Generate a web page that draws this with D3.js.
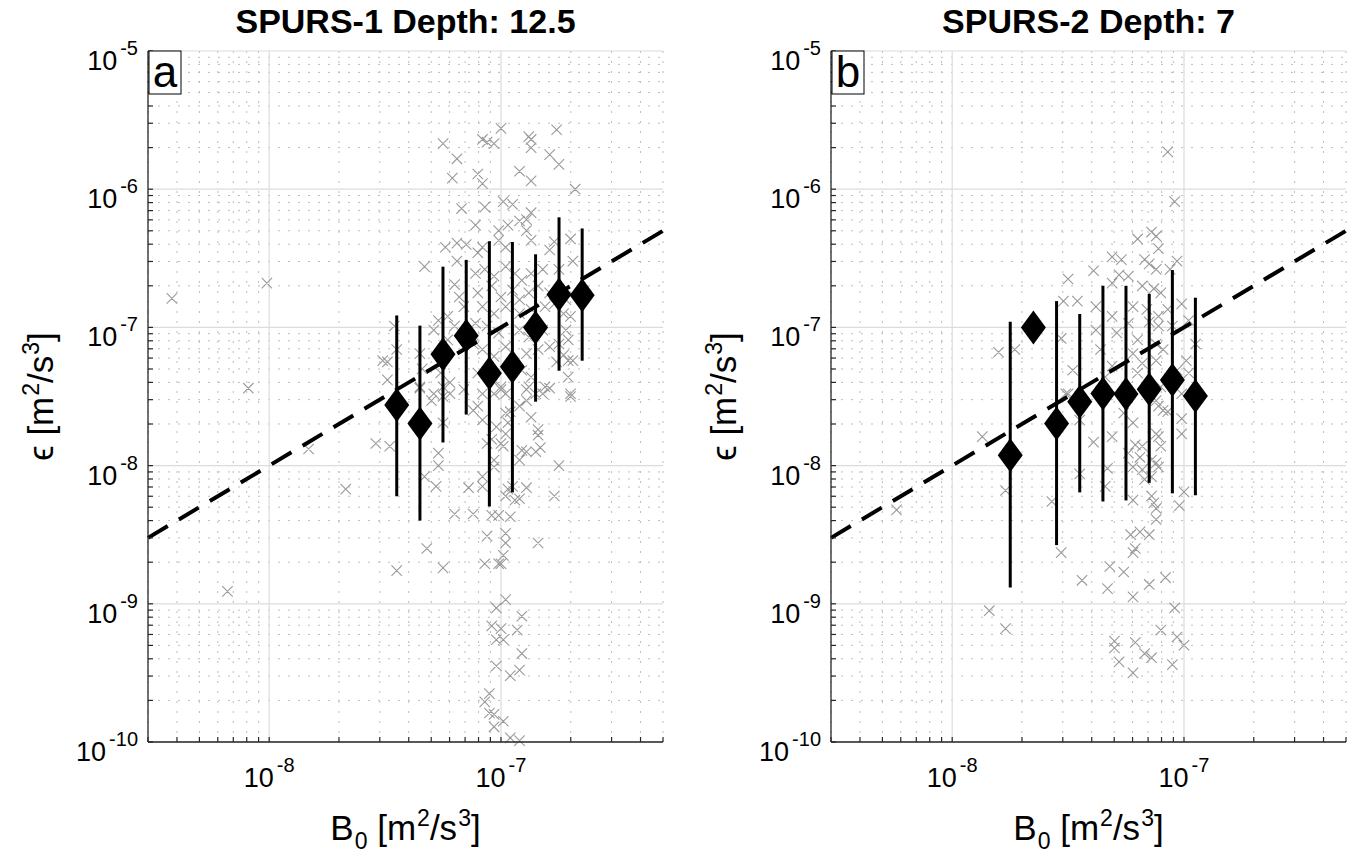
<!DOCTYPE html>
<html>
<head>
<meta charset="utf-8">
<script src="https://cdn.jsdelivr.net/npm/d3@7"></script>
<style>
  body { margin: 0; background: #fff; }
  svg { font-family: "Liberation Sans", Arial, Helvetica, sans-serif; }
</style>
</head>
<body>
<svg width="1358" height="865"></svg>
<script>
(function (d3) {
  'use strict';

  // ---- data ----
  const titles = ['SPURS-1 Depth: 12.5', 'SPURS-2 Depth: 7'];
  const letters = ['a', 'b'];
  const xTickVals = [1e-8, 1e-7];
  const yTickVals = [1e-10, 1e-9, 1e-8, 1e-7, 1e-6, 1e-5];
  const xDomain = [3e-9, 5e-7];
  const yDomain = [1e-10, 1e-5];

  // fit line eps = B0
  const fitB0 = [3e-9, 5e-7];
  const fitEps = [3e-9, 5e-7];

  // binned means (diamonds) with error bars
  const s1BinB0  = [3.55e-8, 4.47e-8, 5.62e-8, 7.08e-8, 8.91e-8, 1.12e-7, 1.41e-7, 1.78e-7, 2.24e-7];
  const s1BinEps = [2.75e-8, 2.02e-8, 6.4e-8, 8.7e-8, 4.66e-8, 5.2e-8, 1.0e-7, 1.73e-7, 1.71e-7];
  const s1BinHi  = [1.22e-7, 1.03e-7, 2.75e-7, 3.08e-7, 4.2e-7, 4.15e-7, 3.38e-7, 6.26e-7, 5.2e-7];
  const s1BinLo  = [6.0e-9, 4.0e-9, 1.47e-8, 2.34e-8, 5.05e-9, 6.4e-9, 2.9e-8, 4.86e-8, 5.74e-8];

  const s2BinB0  = [1.78e-8, 2.24e-8, 2.82e-8, 3.55e-8, 4.47e-8, 5.62e-8, 7.08e-8, 8.91e-8, 1.12e-7];
  const s2BinEps = [1.19e-8, 1.0e-7, 2.02e-8, 2.9e-8, 3.33e-8, 3.3e-8, 3.57e-8, 4.16e-8, 3.19e-8];
  const s2BinHi  = [1.1e-7, null, 1.55e-7, 1.25e-7, 2.0e-7, 2.0e-7, 1.75e-7, 2.6e-7, 1.64e-7];
  const s2BinLo  = [1.31e-9, null, 2.66e-9, 6.4e-9, 5.5e-9, 5.6e-9, 7.5e-9, 6.3e-9, 6.1e-9];

  // individual estimates, stored as [log10 B0, log10 eps]
  const s1Scatter = [
    [-8.42,-6.79],[-8.01,-6.68],[-8.09,-7.44],[-7.25,-5.67],[-7.19,-5.78],[-7.21,-5.92],[-7.08,-5.64],
    [-7.06,-5.66],[-7.03,-5.67],[-7.00,-5.56],[-7.10,-5.89],[-7.08,-5.96],[-6.88,-5.62],[-6.87,-5.64],
    [-6.87,-5.70],[-6.76,-5.57],[-6.79,-5.75],[-6.75,-5.82],[-6.92,-5.87],[-6.87,-5.94],[-6.68,-6.00],
    [-7.17,-6.14],[-7.07,-6.13],[-7.11,-6.26],[-6.99,-6.09],[-6.95,-6.11],[-6.87,-6.17],[-6.89,-6.22],
    [-7.01,-6.30],[-6.97,-6.26],[-6.92,-6.23],[-6.89,-6.30],[-6.87,-6.37],[-6.77,-6.38],[-6.70,-6.36],
    [-6.69,-6.52],[-7.24,-6.42],[-7.19,-6.39],[-7.15,-6.40],[-7.33,-6.56],[-7.19,-6.52],[-7.10,-6.46],
    [-7.08,-6.42],[-7.01,-6.37],[-6.98,-6.42],[-6.79,-6.44],[-6.75,-6.58],
    [-7.11,-6.61],[-7.07,-6.58],[-7.03,-6.63],[-6.98,-6.56],[-6.94,-6.61],[-6.91,-6.66],[-6.87,-6.61],
    [-6.82,-6.58],[-7.10,-6.75],[-7.04,-6.70],[-7.00,-6.78],[-6.95,-6.73],[-6.92,-6.80],[-6.88,-6.75],
    [-6.84,-6.70],[-6.79,-6.75],[-7.20,-6.69],[-7.18,-6.78],[-7.16,-6.85],[-7.08,-6.85],[-7.03,-6.90],
    [-6.98,-6.85],[-6.92,-6.90],[-6.87,-6.87],[-6.81,-6.85],[-6.77,-6.83],[-6.72,-6.80],[-7.27,-6.95],
    [-7.23,-6.92],[-7.20,-6.99],[-7.11,-6.97],[-7.06,-6.99],[-7.01,-7.04],[-6.92,-7.02],[-6.88,-7.07],
    [-6.82,-7.02],[-6.73,-6.90],[-6.70,-6.92],[-6.72,-7.02],[-7.29,-7.02],[-7.23,-7.09],[-7.12,-7.12],
    [-7.08,-7.16],[-7.03,-7.21],[-6.98,-7.14],[-6.89,-7.19],[-6.84,-7.16],[-6.79,-7.14],[-6.75,-7.12],
    [-6.71,-7.09],[-7.46,-6.99],[-7.45,-7.16],[-7.49,-7.25],[-7.51,-7.24],[-7.35,-7.19],[-7.34,-7.30],
    [-7.26,-7.33],[-7.22,-7.40],[-7.10,-7.33],[-7.04,-7.38],[-7.00,-7.43],[-6.91,-7.31],[-6.87,-7.36],
    [-6.81,-7.43],[-6.73,-7.20],[-6.71,-7.24],[-6.69,-7.24],[-6.71,-7.36],[-6.70,-7.48],[-6.76,-7.25],
    [-7.49,-7.38],[-7.35,-7.44],[-7.29,-7.48],[-7.25,-7.50],[-7.16,-7.45],[-7.08,-7.48],[-6.98,-7.48],
    [-6.89,-7.45],[-6.82,-7.48],[-6.79,-7.44],
    [-7.54,-7.84],[-7.48,-7.86],[-7.35,-7.43],[-7.29,-7.48],[-7.30,-7.53],[-7.25,-7.43],[-7.22,-7.48],
    [-7.16,-7.45],[-7.12,-7.60],[-7.10,-7.57],[-7.08,-7.67],[-7.03,-7.48],[-7.00,-7.45],[-6.98,-7.62],
    [-6.96,-7.61],[-6.97,-7.69],[-6.92,-7.57],[-6.89,-7.53],[-6.88,-7.43],[-6.85,-7.48],[-6.81,-7.43],
    [-6.87,-7.65],[-6.84,-7.74],[-6.84,-7.78],[-6.70,-7.50],[-7.25,-7.69],[-7.27,-7.91],[-7.27,-8.00],
    [-7.33,-8.08],[-7.28,-8.15],[-7.20,-8.35],[-7.12,-8.35],[-7.14,-8.16],[-7.08,-8.08],[-7.08,-8.15],
    [-7.06,-7.84],[-7.04,-7.81],[-7.03,-8.01],[-7.03,-7.96],[-7.02,-7.72],[-7.00,-7.84],[-6.99,-7.86],
    [-6.98,-7.77],[-6.97,-8.17],[-6.95,-8.15],[-6.94,-8.25],[-6.98,-8.22],[-6.92,-7.96],[-6.91,-7.89],
    [-6.89,-7.90],[-6.85,-7.90],[-6.83,-7.87],[-6.89,-8.16],[-6.92,-8.24],[-7.04,-8.36],[-7.01,-8.36],
    [-6.96,-8.37],[-7.06,-8.51],[-6.98,-8.49],[-6.98,-8.56],[-6.99,-8.65],[-7.00,-8.71],[-7.07,-8.71],
    [-7.01,-8.71],[-6.84,-8.56],[-6.75,-8.00],[-6.77,-8.22],[-7.67,-8.17],[-7.83,-7.88],[-7.32,-8.60],
    [-7.45,-8.76],[-7.25,-8.74],[-8.18,-8.91],[-6.98,-8.97],[-7.02,-9.03],[-6.91,-9.09],[-7.04,-9.16],
    [-7.00,-9.18],[-6.93,-9.19],[-7.02,-9.26],[-6.99,-9.26],[-6.91,-9.36],[-7.02,-9.45],[-6.96,-9.52],
    [-6.92,-9.48],[-7.05,-9.65],[-7.07,-9.71],[-7.05,-9.79],[-7.03,-9.80],[-6.99,-9.85],[-7.03,-9.89],
    [-6.96,-9.97],[-6.92,-9.99]
  ];

  const s2Scatter = [
    [-7.07,-5.73],[-7.04,-6.09],[-7.14,-6.31],[-7.12,-6.34],[-7.20,-6.36],[-7.11,-6.43],[-7.31,-6.49],
    [-7.27,-6.51],[-7.17,-6.51],[-7.15,-6.54],[-7.12,-6.58],[-7.03,-6.52],[-7.06,-6.58],[-7.39,-6.59],
    [-7.24,-6.63],[-7.31,-6.68],[-7.28,-6.62],[-7.50,-6.65],[-7.18,-6.70],[-7.13,-6.72],[-7.10,-6.75],
    [-7.52,-6.81],[-7.46,-6.81],[-7.38,-6.85],[-7.22,-6.85],[-7.01,-6.83],[-7.16,-6.87],[-7.31,-6.92],
    [-7.11,-6.92],[-7.07,-6.87],[-6.98,-6.95],[-7.24,-6.97],[-7.15,-6.96],[-7.11,-6.99],[-7.05,-6.99],
    [-7.38,-7.02],[-7.53,-7.08],[-7.29,-7.04],[-7.20,-7.09],[-7.12,-7.12],[-6.95,-7.12],[-7.36,-7.16],
    [-7.22,-7.19],[-7.09,-7.16],[-7.80,-7.18],[-7.73,-7.16],[-7.48,-7.31],[-7.31,-7.28],[-7.18,-7.26],
    [-7.12,-7.24],[-6.99,-7.24],[-7.20,-7.33],[-7.03,-7.31],[-6.98,-7.33],[-7.34,-7.36],[-7.10,-7.43],
    [-7.50,-7.48],[-7.01,-7.48],
    [-7.87,-7.79],[-7.51,-7.48],[-7.45,-7.67],[-7.39,-7.83],[-7.31,-7.79],[-7.26,-7.62],[-7.22,-7.69],
    [-7.21,-7.85],[-7.18,-7.86],[-7.12,-7.53],[-7.11,-7.57],[-7.09,-7.60],[-7.07,-7.61],[-7.12,-7.77],
    [-7.11,-7.79],[-7.10,-7.86],[-7.01,-7.66],[-7.01,-7.77],[-7.24,-7.91],[-7.19,-7.94],[-7.14,-7.96],
    [-7.12,-7.98],[-7.22,-8.01],[-7.11,-8.01],[-7.18,-8.03],[-7.17,-8.10],[-7.14,-8.08],[-7.33,-8.02],
    [-7.45,-8.06],[-7.34,-8.15],[-7.77,-8.18],[-7.00,-8.19],[-7.57,-8.26],[-7.22,-8.25],[-7.14,-8.22],
    [-7.13,-8.27],[-7.02,-8.29],[-7.12,-8.31],[-7.12,-8.39],[-8.24,-8.32],[-7.23,-8.50],[-7.19,-8.48],
    [-7.15,-8.50],[-7.21,-8.60],[-7.22,-8.63],[-7.53,-8.63],[-7.32,-8.73],[-7.26,-8.77],[-7.08,-8.81],
    [-7.44,-8.83],[-7.33,-8.89],[-7.15,-8.86],[-7.22,-8.95],[-7.84,-9.05],[-7.04,-9.03],[-7.77,-9.18],
    [-7.10,-9.19],[-7.03,-9.24],[-7.30,-9.27],[-7.30,-9.32],[-7.21,-9.28],[-7.00,-9.30],[-7.28,-9.42],
    [-7.17,-9.36],[-7.14,-9.39],[-7.05,-9.44],[-7.22,-9.50]
  ];

  const panels = [
    { left: 148, title: titles[0], letter: letters[0], scatter: s1Scatter,
      b0: s1BinB0, eps: s1BinEps, hi: s1BinHi, lo: s1BinLo },
    { left: 831, title: titles[1], letter: letters[1], scatter: s2Scatter,
      b0: s2BinB0, eps: s2BinEps, hi: s2BinHi, lo: s2BinLo }
  ];

  const svg = d3.select('svg');
  const plotTop = 51;
  const plotBottom = 742;
  const plotWidth = 515;
  const isMajor = v => Math.abs(Math.log10(v) - Math.round(Math.log10(v))) < 1e-6;

  const powLabel = (sel, v) => {
    sel.append('tspan').text('10');
    sel.append('tspan')
      .attr('dx', 3)
      .attr('dy', -15)
      .attr('font-size', 20)
      .text(Math.round(Math.log10(v)));
  };

  // label with TeX-like sub/superscripts: parts are [text, shift] with shift -1 sub, 1 sup
  const richLabel = (sel, parts, big, small) => {
    let level = 0;
    parts.forEach(([txt, lv]) => {
      const t = sel.append('tspan').text(txt)
        .attr('font-size', lv === 0 ? big : small);
      const target = lv === 1 ? -14 : lv === -1 ? 9 : 0;
      t.attr('dy', target - level);
      if (lv !== 0) t.attr('dx', 1);
      level = target;
    });
  };

  const render = p => {
    const xScale = d3.scaleLog().domain(xDomain).range([p.left, p.left + plotWidth]);
    const yScale = d3.scaleLog().domain(yDomain).range([plotBottom, plotTop]);
    const xAll = xScale.ticks();
    const yAll = yScale.ticks();

    const g = svg.append('g');

    // minor grid
    g.selectAll('.xminor').data(xAll.filter(v => !isMajor(v)))
      .enter().append('line')
        .attr('x1', d => xScale(d)).attr('x2', d => xScale(d))
        .attr('y1', plotTop).attr('y2', plotBottom)
        .attr('stroke', '#bdbdbd').attr('stroke-width', 1)
        .attr('stroke-dasharray', '2,8');
    g.selectAll('.yminor').data(yAll.filter(v => !isMajor(v)))
      .enter().append('line')
        .attr('y1', d => yScale(d)).attr('y2', d => yScale(d))
        .attr('x1', p.left).attr('x2', p.left + plotWidth)
        .attr('stroke', '#bdbdbd').attr('stroke-width', 1)
        .attr('stroke-dasharray', '2,8');

    // major grid
    g.selectAll('.xmajor').data(xTickVals)
      .enter().append('line')
        .attr('x1', d => xScale(d)).attr('x2', d => xScale(d))
        .attr('y1', plotTop).attr('y2', plotBottom)
        .attr('stroke', '#dcdcdc').attr('stroke-width', 1.2);
    g.selectAll('.ymajor').data(yTickVals)
      .enter().append('line')
        .attr('y1', d => yScale(d)).attr('y2', d => yScale(d))
        .attr('x1', p.left).attr('x2', p.left + plotWidth)
        .attr('stroke', '#dcdcdc').attr('stroke-width', 1.2);

    // scatter crosses
    const r = 5.2;
    const pts = p.scatter.map(d => [xScale(Math.pow(10, d[0])), yScale(Math.pow(10, d[1]))]);
    g.append('path')
      .attr('d', pts.map(([cx, cy]) =>
        `M${cx - r},${cy - r}L${cx + r},${cy + r}M${cx - r},${cy + r}L${cx + r},${cy - r}`).join(''))
      .attr('stroke', '#9a9a9a').attr('stroke-width', 1.1).attr('fill', 'none');

    // fit line
    const line = d3.line().x(d => xScale(d[0])).y(d => yScale(d[1]));
    g.append('path')
      .attr('d', line(fitB0.map((b, i) => [b, fitEps[i]])))
      .attr('stroke', '#000').attr('stroke-width', 4)
      .attr('stroke-dasharray', '23,13').attr('fill', 'none');

    // error bars
    const bins = p.b0.map((b, i) => ({ b, e: p.eps[i], hi: p.hi[i], lo: p.lo[i] }));
    g.selectAll('.err').data(bins.filter(d => d.hi !== null))
      .enter().append('line')
        .attr('x1', d => xScale(d.b)).attr('x2', d => xScale(d.b))
        .attr('y1', d => yScale(d.hi)).attr('y2', d => yScale(d.lo))
        .attr('stroke', '#000').attr('stroke-width', 3);

    // diamonds
    const dw = 12.5, dh = 17;
    g.selectAll('.dia').data(bins)
      .enter().append('path')
        .attr('d', d => {
          const cx = xScale(d.b), cy = yScale(d.e);
          return `M${cx},${cy - dh}L${cx + dw},${cy}L${cx},${cy + dh}L${cx - dw},${cy}Z`;
        })
        .attr('fill', '#000');

    // axes lines
    g.append('line')
      .attr('x1', p.left).attr('x2', p.left)
      .attr('y1', plotTop).attr('y2', plotBottom)
      .attr('stroke', '#262626').attr('stroke-width', 1.3);
    g.append('line')
      .attr('x1', p.left).attr('x2', p.left + plotWidth)
      .attr('y1', plotBottom).attr('y2', plotBottom)
      .attr('stroke', '#262626').attr('stroke-width', 1.3);

    // ticks (inward)
    g.selectAll('.xtick').data(xAll)
      .enter().append('line')
        .attr('x1', d => xScale(d)).attr('x2', d => xScale(d))
        .attr('y1', plotBottom).attr('y2', plotBottom - 5)
        .attr('stroke', '#262626').attr('stroke-width', 1.2);
    g.selectAll('.ytick').data(yAll)
      .enter().append('line')
        .attr('y1', d => yScale(d)).attr('y2', d => yScale(d))
        .attr('x1', p.left).attr('x2', p.left + 5)
        .attr('stroke', '#262626').attr('stroke-width', 1.2);

    // tick labels
    g.selectAll('.ylab').data(yTickVals)
      .enter().append('text')
        .attr('x', p.left - 10)
        .attr('y', d => yScale(d) + 19)
        .attr('text-anchor', 'end')
        .attr('font-size', 27)
        .attr('fill', '#000')
        .each(function (d) { powLabel(d3.select(this), d); });
    g.selectAll('.xlab').data(xTickVals)
      .enter().append('text')
        .attr('x', d => xScale(d))
        .attr('y', 787)
        .attr('text-anchor', 'middle')
        .attr('font-size', 27)
        .attr('fill', '#000')
        .each(function (d) { powLabel(d3.select(this), d); });

    // title
    g.append('text')
      .attr('x', p.left + plotWidth / 2)
      .attr('y', 33)
      .attr('text-anchor', 'middle')
      .attr('font-size', 34)
      .attr('font-weight', 'bold')
      .text(p.title);

    // x axis label
    const xl = g.append('text')
      .attr('x', p.left + plotWidth / 2)
      .attr('y', 840)
      .attr('text-anchor', 'middle');
    richLabel(xl, [['B', 0], ['0', -1], [' [m', 0], ['2', 1], ['/s', 0], ['3', 1], [']', 0]], 35, 23);

    // y axis label
    const yl = g.append('text')
      .attr('transform', `translate(${p.left - 95},${(plotTop + plotBottom) / 2}) rotate(-90)`)
      .attr('text-anchor', 'middle');
    richLabel(yl, [['\u03F5 [m', 0], ['2', 1], ['/s', 0], ['3', 1], [']', 0]], 35, 23);

    // panel letter box
    g.append('rect')
      .attr('x', p.left + 1).attr('y', plotTop)
      .attr('width', 32).attr('height', 43)
      .attr('fill', '#fff').attr('stroke', '#000').attr('stroke-width', 1);
    g.append('text')
      .attr('x', p.left + 17).attr('y', plotTop + 36)
      .attr('text-anchor', 'middle')
      .attr('font-size', 44)
      .text(p.letter);
  };

  panels.forEach(render);

}(d3));
</script>
</body>
</html>
